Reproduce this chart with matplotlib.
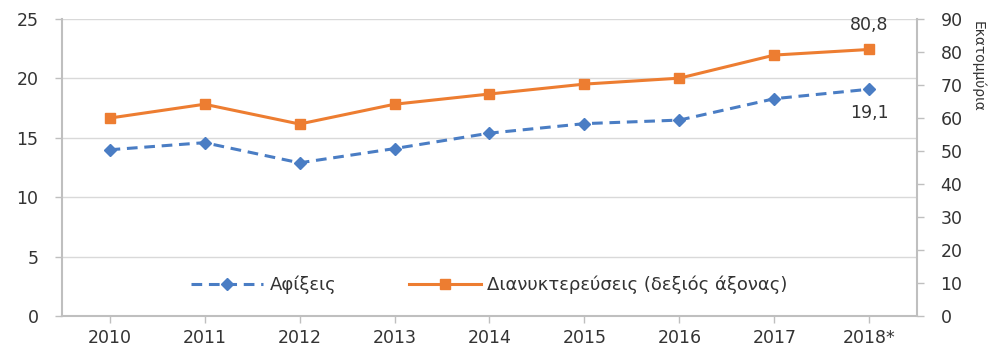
import matplotlib.pyplot as plt

years = ['2010', '2011', '2012', '2013', '2014', '2015', '2016', '2017', '2018*']
arrivals = [14.0, 14.6, 12.9, 14.1, 15.4, 16.2, 16.5, 18.3, 19.1]
nights = [60.0, 64.2, 58.2, 64.2, 67.3, 70.3, 72.1, 79.1, 80.8]

blue = '#4a7dc4'
orange = '#ed7d31'
grey = '#bfbfbf'
txt = '#333333'

plt.rcParams['font.family'] = 'DejaVu Sans'

fig = plt.figure(figsize=(10.01, 3.47), dpi=100)
ax = fig.add_axes([0.062, 0.089, 0.854, 0.856])
ax2 = ax.twinx()

x = list(range(len(years)))
l1, = ax.plot(x, arrivals, color=blue, lw=2.2, ls=(0, (3.5, 2.2)),
              marker='D', ms=6, label='Αφίξεις', zorder=3)
l2, = ax2.plot(x, nights, color=orange, lw=2.2, marker='s', ms=6.5,
               label='Διανυκτερεύσεις (δεξιός άξονας)', zorder=3)

ax.set_xlim(-0.5, len(years) - 0.5)
ax.set_ylim(0, 25)
ax2.set_ylim(0, 90)
ax.set_yticks(range(0, 26, 5))
ax2.set_yticks(range(0, 91, 10))
ax.set_xticks(x)
ax.set_xticklabels(years)

ax.grid(axis='y', color='#d9d9d9', lw=1)
ax.set_axisbelow(True)

for a in (ax, ax2):
    a.spines['top'].set_visible(False)
    for s in ('left', 'right', 'bottom'):
        a.spines[s].set_color(grey)
        a.spines[s].set_linewidth(1.5)
    a.tick_params(colors=grey, labelcolor=txt, labelsize=12.5, length=5, width=1)
ax.spines['right'].set_visible(False)
ax2.spines['left'].set_visible(False)
ax2.spines['bottom'].set_visible(False)
ax.tick_params(axis='y', pad=12)
ax2.tick_params(axis='y', pad=12)
ax.tick_params(axis='x', pad=4)

ax2.set_ylabel('Εκατομμύρια', rotation=270, fontsize=10, color=txt)
ax2.yaxis.set_label_coords(1.08, 0.84)

ax2.annotate('80,8', (x[-1], nights[-1]), xytext=(0, 11), textcoords='offset points',
             ha='center', va='bottom', fontsize=12.5, color=txt)
ax.annotate('19,1', (x[-1], arrivals[-1]), xytext=(0, -11), textcoords='offset points',
            ha='center', va='top', fontsize=12.5, color=txt)

ax.legend(handles=[l1, l2], loc='lower center', bbox_to_anchor=(0.5, 0.02),
          ncol=2, frameon=False, fontsize=13, handlelength=4.0, handletextpad=0.35,
          columnspacing=4.0, labelcolor=txt)

fig.savefig('out.png', dpi=100)
